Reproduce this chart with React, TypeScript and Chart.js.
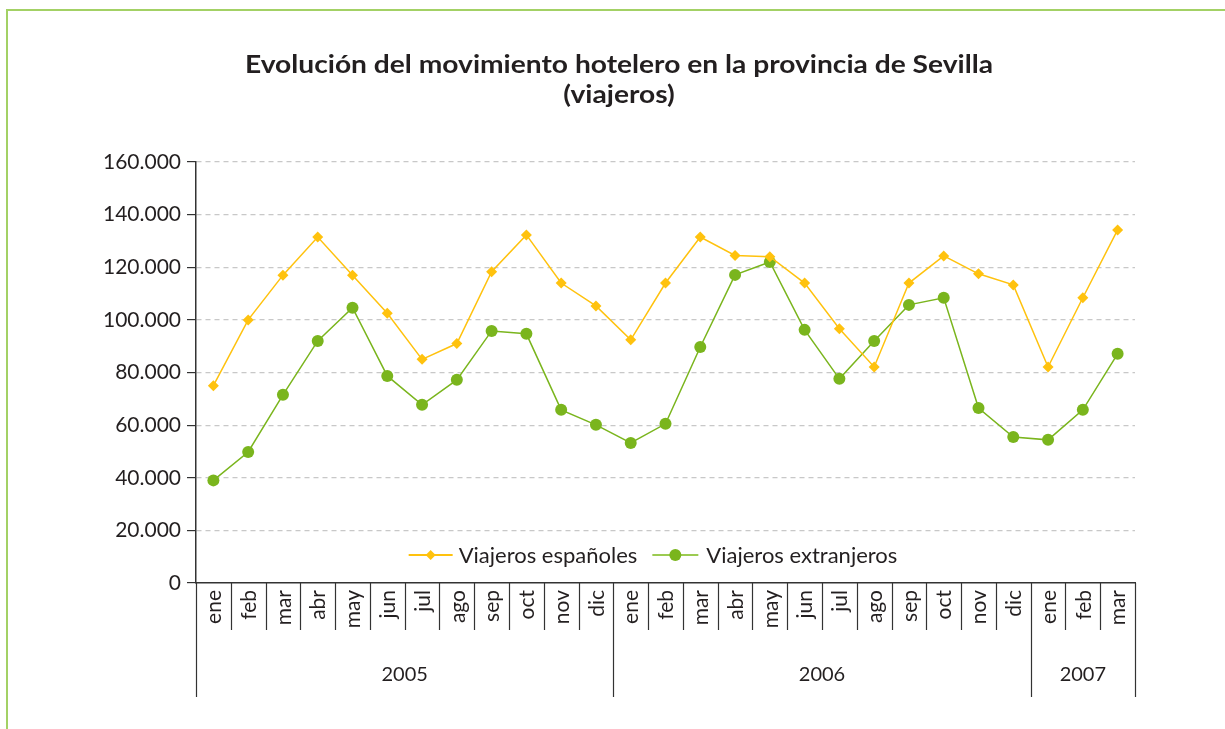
import React, { useEffect, useRef } from "react";
import { Chart, registerables } from "chart.js";

Chart.register(...registerables);

const titleLines = ["Evolución del movimiento hotelero en la provincia de Sevilla", "(viajeros)"];
const months = ["ene", "feb", "mar", "abr", "may", "jun", "jul", "ago", "sep", "oct", "nov", "dic", "ene", "feb", "mar", "abr", "may", "jun", "jul", "ago", "sep", "oct", "nov", "dic", "ene", "feb", "mar"];
const years = ["2005", "2006", "2007"];
const yearSpans = [12, 12, 3];
const seriesNames = ["Viajeros españoles", "Viajeros extranjeros"];
const espanoles = [75000, 100000, 117000, 131500, 117000, 102500, 85000, 91000, 118300, 132300, 114000, 105300, 92400, 114000, 131500, 124500, 124000, 114000, 96600, 82100, 114000, 124300, 117500, 113300, 82100, 108400, 134200];
const extranjeros = [39000, 49800, 71500, 92000, 104600, 78700, 67700, 77200, 95800, 94700, 65800, 60100, 53200, 60500, 89700, 117100, 122000, 96200, 77600, 92000, 105700, 108400, 66500, 55500, 54400, 65800, 87100];
const yMin = 0;
const yMax = 160000;
const yStep = 20000;

const YELLOW = "#FFC20E";
const GREEN = "#7AB51D";
const GREEN_LIGHT = "#9CCB52";
const FONT = "Lato, 'Open Sans', sans-serif";
const TEXT = "#231F20";

const fmt = (v: number) => String(Math.round(v)).replace(/\B(?=(\d{3})+(?!\d))/g, ".");

const decorPlugin = {
  id: "decor",
  afterDraw(chart: any) {
    const ctx = chart.ctx as CanvasRenderingContext2D;
    const area = chart.chartArea;
    const left = area.left;
    const right = area.right;
    const bottom = area.bottom;
    const n = months.length;
    const w = (right - left) / n;
    ctx.save();

    // frame
    ctx.strokeStyle = "#A3D165";
    ctx.lineWidth = 2;
    ctx.beginPath();
    ctx.moveTo(7, 729);
    ctx.lineTo(7, 10);
    ctx.lineTo(1225, 10);
    ctx.stroke();

    // title (horizontally stretched to match the wide humanist face of the original)
    ctx.fillStyle = TEXT;
    ctx.font = `bold 24px ${FONT}`;
    ctx.textAlign = "center";
    ctx.textBaseline = "middle";
    const tw = ctx.measureText(titleLines[0]).width;
    const sx = tw > 0 ? 748 / tw : 1;
    ctx.save();
    ctx.translate(619, 0);
    ctx.scale(sx, 1);
    ctx.fillText(titleLines[0], 0, 65);
    ctx.fillText(titleLines[1], 0, 95);
    ctx.restore();

    // separators
    const yearBounds = new Set<number>();
    let acc = 0;
    yearBounds.add(0);
    yearSpans.forEach((s) => {
      acc += s;
      yearBounds.add(acc);
    });
    ctx.strokeStyle = "#333";
    ctx.lineWidth = 1.2;
    for (let i = 0; i <= n; i++) {
      const x = Math.round(left + i * w) + 0.5;
      ctx.beginPath();
      ctx.moveTo(x, bottom);
      ctx.lineTo(x, yearBounds.has(i) ? 697 : 630);
      ctx.stroke();
    }

    // month labels
    ctx.fillStyle = TEXT;
    ctx.font = `21px ${FONT}`;
    ctx.textAlign = "right";
    ctx.textBaseline = "middle";
    months.forEach((m, i) => {
      const xc = left + (i + 0.5) * w;
      ctx.save();
      ctx.translate(xc, bottom + 7);
      ctx.rotate(-Math.PI / 2);
      ctx.fillText(m, 0, 1);
      ctx.restore();
    });

    // year labels
    ctx.font = `20px ${FONT}`;
    ctx.textAlign = "center";
    let start = 0;
    years.forEach((y, k) => {
      const s = yearSpans[k];
      const xc = left + (start + s / 2) * w;
      ctx.fillText(y, xc, 675);
      start += s;
    });

    // legend
    ctx.font = `22px ${FONT}`;
    ctx.textAlign = "left";
    const t1 = ctx.measureText(seriesNames[0]).width;
    const t2 = ctx.measureText(seriesNames[1]).width;
    const total = 44 + 6 + t1 + 15 + 46 + 8 + t2;
    let x = 653 - total / 2;
    const ly = 555;
    ctx.strokeStyle = YELLOW;
    ctx.lineWidth = 2;
    ctx.beginPath();
    ctx.moveTo(x, ly);
    ctx.lineTo(x + 44, ly);
    ctx.stroke();
    ctx.fillStyle = YELLOW;
    ctx.beginPath();
    const dx = x + 22;
    ctx.moveTo(dx, ly - 5);
    ctx.lineTo(dx + 5, ly);
    ctx.lineTo(dx, ly + 5);
    ctx.lineTo(dx - 5, ly);
    ctx.closePath();
    ctx.fill();
    x += 50;
    ctx.fillStyle = TEXT;
    ctx.fillText(seriesNames[0], x, ly + 1);
    x += t1 + 15;
    ctx.strokeStyle = GREEN_LIGHT;
    ctx.beginPath();
    ctx.moveTo(x, ly);
    ctx.lineTo(x + 46, ly);
    ctx.stroke();
    ctx.fillStyle = GREEN;
    ctx.beginPath();
    ctx.arc(x + 23, ly, 6, 0, Math.PI * 2);
    ctx.fill();
    x += 54;
    ctx.fillStyle = TEXT;
    ctx.fillText(seriesNames[1], x, ly + 1);

    ctx.restore();
  },
};

export default function App() {
  const ref = useRef<HTMLCanvasElement | null>(null);
  useEffect(() => {
    if (!ref.current) return;
    const chart = new Chart(ref.current, {
      type: "line",
      data: {
        labels: months.map((m, i) => `${m}-${i}`),
        datasets: [
          {
            label: seriesNames[0],
            data: espanoles,
            borderColor: YELLOW,
            backgroundColor: YELLOW,
            borderWidth: 1.5,
            pointStyle: "rectRot",
            pointRadius: 5.5,
            pointBorderWidth: 0,
            tension: 0,
          },
          {
            label: seriesNames[1],
            data: extranjeros,
            borderColor: GREEN,
            backgroundColor: GREEN,
            borderWidth: 1.5,
            pointStyle: "circle",
            pointRadius: 6,
            pointBorderWidth: 0,
            tension: 0,
          },
        ],
      },
      options: {
        responsive: false,
        animation: false,
        events: [],
        layout: { padding: { top: 162, right: 90, left: 0, bottom: 0 } },
        plugins: {
          legend: { display: false },
          title: { display: false },
          tooltip: { enabled: false },
        },
        scales: {
          x: {
            type: "category",
            offset: true,
            grid: { display: false },
            ticks: { display: false },
            border: { display: true, color: "#333", width: 1.5 },
            afterFit: (s: any) => {
              s.height = 729 - 583;
            },
          },
          y: {
            min: yMin,
            max: yMax,
            ticks: {
              stepSize: yStep,
              color: TEXT,
              font: { family: FONT, size: 21 },
              padding: 6,
              callback: (v: any) => fmt(Number(v)),
            },
            grid: {
              color: (c: any) => (c.tick && c.tick.value === 0 ? "rgba(0,0,0,0)" : "#C8C8C8"),
              lineWidth: 1.2,
              tickColor: "#333",
              tickLength: 9,
              tickWidth: 1.2,
            },
            border: { display: true, color: "#333", width: 1.5, dash: [5, 4] },
            afterFit: (s: any) => {
              s.width = 196;
            },
          },
        },
      },
      plugins: [decorPlugin],
    });
    return () => chart.destroy();
  }, []);
  return (
    <div style={{ position: "absolute", left: 0, top: 0, width: 1225, height: 729, background: "#fff" }}>
      <canvas ref={ref} width={1225} height={729} style={{ display: "block", width: 1225, height: 729 }} />
    </div>
  );
}
